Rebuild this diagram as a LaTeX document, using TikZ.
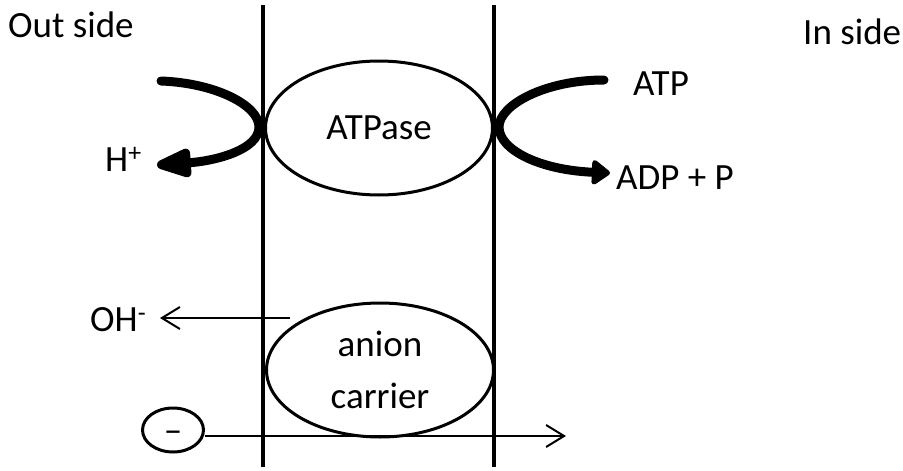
\documentclass[tikz,border=0pt]{standalone}
\usepackage{fontspec}
\setmainfont{Carlito}
\usetikzlibrary{arrows.meta,shapes.geometric}
\begin{document}
\begin{tikzpicture}[x=1pt,y=-1pt,
  lbl/.style={anchor=base west,inner sep=0pt,font=\fontsize{37}{52}\selectfont},
  membrane/.style={line width=4pt},
  protein/.style={ellipse,draw,line width=3pt,inner sep=0pt,align=center,
    minimum width=227pt,minimum height=134pt,font=\fontsize{37}{52}\selectfont},
  thick arrow/.style={line width=9pt,line cap=round},
  thin arrow/.style={line width=2pt,-{Straight Barb[length=18pt,width=22pt,line width=2pt]}}]
\useasboundingbox (0,0) rectangle (903,471);
% membranes
\coordinate (mlt) at (263,5);
\coordinate (mlb) at (263,467);
\coordinate (mrt) at (494,5);
\coordinate (mrb) at (494,467);
\draw[membrane] (mlt) -- (mlb);
\draw[membrane] (mrt) -- (mrb);
% proteins
\node[protein] (atpase) at (379,128) {ATPase};
\node[protein] (carrier) at (380,370) {anion\\carrier};
% labels
\node[lbl] (out) at (8,37) {Out side};
\node[lbl] (in) at (803,45) {In side};
\node[lbl] (atp) at (633,95) {ATP};
\node[lbl] (adp) at (616,189) {ADP + P};
\node[lbl] (hplus) at (105,171) {H\textsuperscript{+}};
\node[lbl] (oh) at (90,331) {OH\textsuperscript{-}};
% thick curved arrows
\coordinate (hs) at (161,81);
\coordinate (ht) at (157,165);
\draw[thick arrow,-{Triangle[length=43pt,width=30pt,round]}]
  (hs) .. controls (215,83) and (259,105) .. (259,127)
       .. controls (259,150) and (215,161) .. (ht);
\coordinate (as) at (604,80);
\coordinate (at) at (610,173);
\draw[thick arrow,-{Triangle[length=20pt,width=28pt,round]}]
  (as) .. controls (545,80) and (499,105) .. (499,127)
       .. controls (499,150) and (540,170) .. (at);
% thin arrows
\coordinate (ohs) at (290,318);
\coordinate (oht) at (160,318);
\draw[thin arrow] (ohs) -- (oht);
\node[ellipse,draw,line width=3pt,inner sep=0pt,minimum width=61pt,minimum height=44pt,
  text height=24pt,text depth=0pt,
  font=\fontsize{37}{52}\selectfont] (minus) at (173,430) {–};
\coordinate (anionend) at (566,436);
\draw[thin arrow] (minus.east |- anionend) -- (anionend);
\end{tikzpicture}
\end{document}
